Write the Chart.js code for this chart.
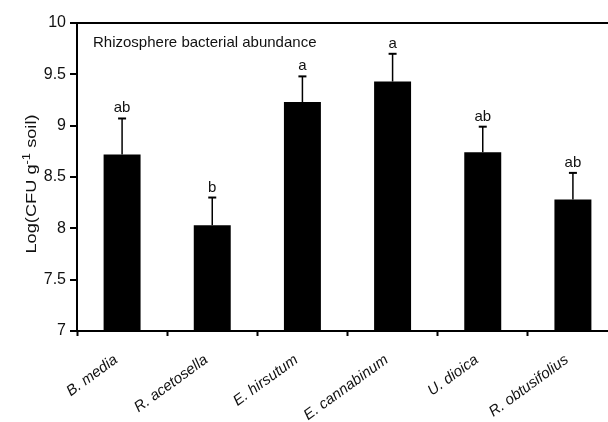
<!DOCTYPE html>
<html>
<head>
<meta charset="utf-8">
<script src="https://cdn.jsdelivr.net/npm/chart.js@4"></script>
<style>
  html, body { margin: 0; padding: 0; background: #fff; overflow: hidden; }
  #wrap { width: 620px; height: 422px; }
</style>
</head>
<body>
<div id="wrap"><canvas id="chart"></canvas></div>
<script>
// chart data
const species = ["B. media", "R. acetosella", "E. hirsutum", "E. cannabinum", "U. dioica", "R. obtusifolius"];
const meanLog = [8.72, 8.03, 9.23, 9.43, 8.74, 8.28];
const stdErr = [0.35, 0.27, 0.25, 0.27, 0.25, 0.26];
const groups = ["ab", "b", "a", "a", "ab", "ab"];
const yMin = 7;
const yMax = 10;
const yStep = 0.5;
const panelTitle = "Rhizosphere bacterial abundance";

const FONT = "'Liberation Sans', Arial, sans-serif";

// error bars + significance letters
const errorBars = {
  id: "errorBars",
  afterDatasetsDraw(chart) {
    const ctx = chart.ctx;
    const y = chart.scales.y;
    const bars = chart.getDatasetMeta(0).data;
    ctx.save();
    ctx.strokeStyle = "#000";
    bars.forEach((bar, i) => {
      const top = y.getPixelForValue(meanLog[i] + stdErr[i]);
      ctx.lineWidth = 1.5;
      ctx.beginPath();
      ctx.moveTo(bar.x, bar.y);
      ctx.lineTo(bar.x, top);
      ctx.stroke();
      ctx.lineWidth = 2;
      ctx.beginPath();
      ctx.moveTo(bar.x - 4, top);
      ctx.lineTo(bar.x + 4, top);
      ctx.stroke();
      ctx.fillStyle = "#111";
      ctx.font = "15px " + FONT;
      ctx.textAlign = "center";
      ctx.textBaseline = "alphabetic";
      ctx.fillText(groups[i], bar.x, top - 6);
    });
    ctx.restore();
  }
};

// panel label and y title (with superscript)
const extraText = {
  id: "extraText",
  afterDraw(chart) {
    const ctx = chart.ctx;
    const area = chart.chartArea;
    ctx.save();
    ctx.fillStyle = "#111";
    ctx.font = "15px " + FONT;
    ctx.textAlign = "left";
    ctx.textBaseline = "alphabetic";
    ctx.fillText(panelTitle, area.left + 16, area.top + 24);

    const parts = [["Log(CFU g", 14, 0], ["-1", 10, -6], [" soil)", 14, 0]];
    ctx.translate(36, (area.top + area.bottom) / 2 + 7);
    ctx.rotate(-Math.PI / 2);
    ctx.scale(1.3, 1);
    let total = 0;
    parts.forEach(p => { ctx.font = p[1] + "px " + FONT; total += ctx.measureText(p[0]).width; });
    let x = -total / 2;
    parts.forEach(p => {
      ctx.font = p[1] + "px " + FONT;
      ctx.fillText(p[0], x, p[2]);
      x += ctx.measureText(p[0]).width;
    });
    ctx.restore();
  }
};

new Chart(document.getElementById("chart"), {
  type: "bar",
  data: {
    labels: species,
    datasets: [{
      data: meanLog,
      backgroundColor: "#000",
      borderWidth: 0,
      categoryPercentage: 1,
      barPercentage: 0.41
    }]
  },
  options: {
    responsive: true,
    maintainAspectRatio: false,
    animation: false,
    layout: { padding: { top: 23, right: 2, left: 0, bottom: 0 } },
    plugins: { legend: { display: false }, tooltip: { enabled: false } },
    scales: {
      x: {
        offset: true,
        grid: {
          offset: true,
          drawOnChartArea: false,
          tickLength: 5,
          tickColor: "#000",
          tickWidth: 2
        },
        border: { color: "#000", width: 2 },
        ticks: {
          color: "#111",
          font: { family: FONT, size: 15, style: "italic" },
          minRotation: 36,
          maxRotation: 36,
          autoSkip: false,
          padding: 15,
          labelOffset: -6
        },
        afterFit(scale) {
          scale.height = 91;
          scale.paddingLeft = 0;
          scale.paddingRight = 0;
        }
      },
      y: {
        min: yMin,
        max: yMax,
        ticks: {
          stepSize: yStep,
          color: "#111",
          font: { family: FONT, size: 16 },
          padding: 4,
          callback: v => String(Math.round(v * 10) / 10)
        },
        grid: {
          color: c => (c.tick && c.tick.value === yMax ? "#000" : "rgba(0,0,0,0)"),
          lineWidth: 2,
          tickLength: 7,
          tickColor: "#000",
          tickWidth: 2
        },
        border: { color: "#000", width: 2 },
        afterFit(scale) {
          scale.width = 77;
          scale.paddingTop = 0;
          scale.paddingBottom = 0;
        }
      }
    }
  },
  plugins: [errorBars, extraText]
});
</script>
</body>
</html>
